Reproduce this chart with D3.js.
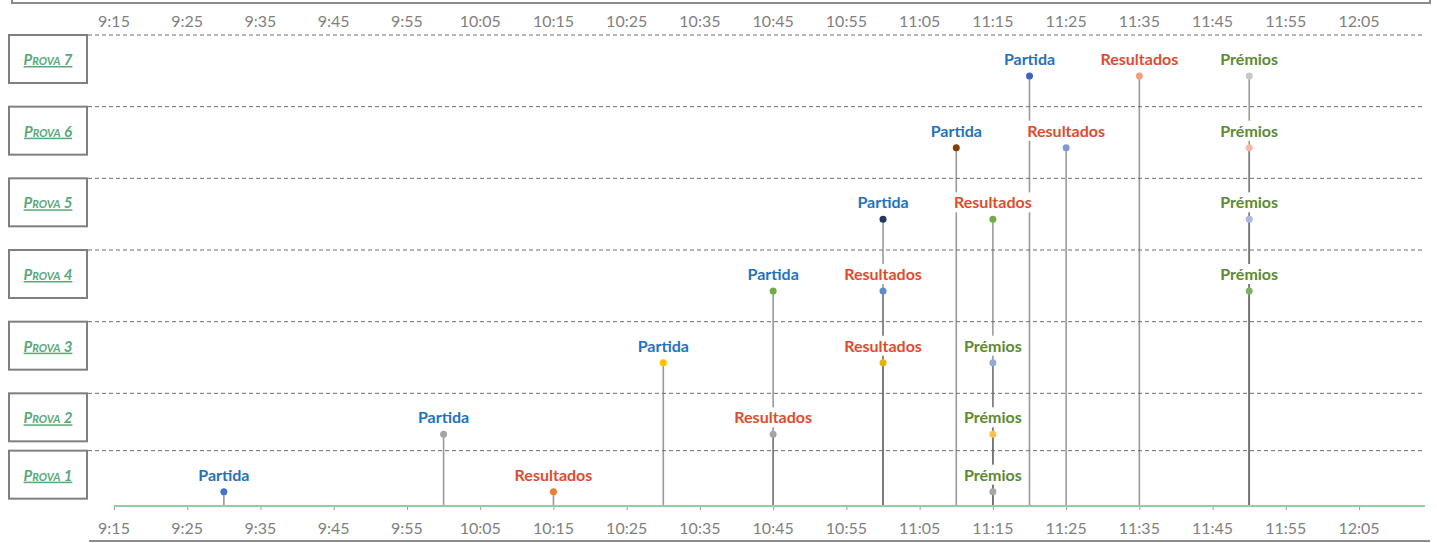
<!DOCTYPE html>
<html>
<head>
<meta charset="utf-8">
<script src="https://cdn.jsdelivr.net/npm/d3@7"></script>
<style>
  body { margin: 0; background: #fff; }
  svg { display: block; }
</style>
</head>
<body>
<svg id="chart" width="1437" height="543"></svg>
<script>
// races, one row each (bottom to top)
var provas = ["Prova 1", "Prova 2", "Prova 3", "Prova 4", "Prova 5", "Prova 6", "Prova 7"];
var levels = [0.2, 1, 2, 3, 4, 5, 6];

var partidaTimes    = ["9:30", "10:00", "10:30", "10:45", "11:00", "11:10", "11:20"];
var resultadosTimes = ["10:15", "10:45", "11:00", "11:00", "11:15", "11:25", "11:35"];
var premiosTimes    = ["11:15", "11:15", "11:15", "11:50", "11:50", "11:50", "11:50"];

var partidaColors    = ["#4472c4", "#a5a5a5", "#ffc000", "#70ad47", "#1f3864", "#843c0c", "#3f63bf"];
var resultadosColors = ["#ed7d31", "#a5a5a5", "#e8b200", "#5e8ccb", "#70ad47", "#7f97d5", "#f4a07a"];
var premiosColors    = ["#a5a5a5", "#ffc04d", "#8faadc", "#7faf60", "#a9b7e3", "#f4b9a8", "#c8c8c8"];

var tickLabels = ["9:15", "9:25", "9:35", "9:45", "9:55", "10:05", "10:15", "10:25", "10:35",
                  "10:45", "10:55", "11:05", "11:15", "11:25", "11:35", "11:45", "11:55", "12:05"];

var parseTime = d3.timeParse("%H:%M");

var events = [];
provas.forEach(function(p, i) {
    events.push({prova: p, level: levels[i], time: parseTime(partidaTimes[i]), label: "Partida", color: partidaColors[i], textColor: "#1f73be"});
    events.push({prova: p, level: levels[i], time: parseTime(resultadosTimes[i]), label: "Resultados", color: resultadosColors[i], textColor: "#e04b2e"});
    events.push({prova: p, level: levels[i], time: parseTime(premiosTimes[i]), label: "Prémios", color: premiosColors[i], textColor: "#5c8a2f"});
});

var svg = d3.select("#chart");

var x = d3.scaleTime()
    .domain([parseTime("9:15"), parseTime("12:14")])
    .range([114, 1425]);

var y = d3.scaleLinear()
    .domain([0, 6])
    .range([506, 76]);

var tickValues = tickLabels.map(parseTime);

// frame above the chart
svg.append("rect")
    .attr("x", 12).attr("y", -20)
    .attr("width", 1418).attr("height", 23)
    .attr("fill", "none")
    .attr("stroke", "#8c8c8c")
    .attr("stroke-width", 2);

// row boxes and dashed separators
var rows = svg.selectAll(".row")
    .data(provas)
    .enter().append("g")
    .attr("class", "row")
    .attr("transform", function(d, i) { return "translate(0," + (y(levels[i]) - 41) + ")"; });

rows.append("line")
    .attr("x1", 88).attr("x2", 1425)
    .attr("stroke", "#6f6f6f")
    .attr("stroke-width", 1)
    .attr("stroke-dasharray", "4,3");

rows.append("rect")
    .attr("x", 9).attr("y", 0)
    .attr("width", 78).attr("height", 48)
    .attr("fill", "#fff")
    .attr("stroke", "#7f7f7f")
    .attr("stroke-width", 2);

rows.append("text")
    .attr("x", 48).attr("y", 30)
    .attr("text-anchor", "middle")
    .style("font-family", "Lato, 'Open Sans', sans-serif")
    .style("font-size", "15px")
    .style("font-style", "italic")
    .style("font-weight", "bold")
    .style("font-variant", "small-caps")
    .style("text-decoration", "underline")
    .attr("fill", "#5aa77a")
    .text(function(d) { return d; });

// stems
svg.selectAll(".stem")
    .data(events)
    .enter().append("line")
    .attr("class", "stem")
    .attr("x1", function(d) { return x(d.time); })
    .attr("x2", function(d) { return x(d.time); })
    .attr("y1", y(0))
    .attr("y2", function(d) { return y(d.level); })
    .attr("stroke", "#6f6f6f")
    .attr("stroke-opacity", 0.7)
    .attr("stroke-width", 1.6);

// axis line
var xAxis = d3.axisBottom(x)
    .tickValues(tickValues)
    .tickSize(4)
    .tickFormat("");

var axisG = svg.append("g")
    .attr("transform", "translate(0," + y(0) + ")")
    .call(xAxis);
axisG.select(".domain").remove();
axisG.selectAll(".tick line").attr("stroke", "#9a9a9a");
axisG.append("line")
    .attr("x1", x.range()[0]).attr("x2", x.range()[1])
    .attr("stroke", "#8fcfa3")
    .attr("stroke-width", 2);

// event labels with white background
var labels = svg.selectAll(".lbl")
    .data(events)
    .enter().append("g")
    .attr("class", "lbl")
    .attr("transform", function(d) { return "translate(" + x(d.time) + "," + (y(d.level) - 11) + ")"; });

labels.append("rect")
    .attr("y", -16)
    .attr("height", 20)
    .attr("fill", "#fff");

labels.append("text")
    .attr("text-anchor", "middle")
    .style("font-family", "Lato, sans-serif")
    .style("font-size", "16px")
    .style("font-weight", "bold")
    .attr("fill", function(d) { return d.textColor; })
    .text(function(d) { return d.label; });

labels.each(function() {
    var g = d3.select(this);
    var w = g.select("text").node().getComputedTextLength();
    g.select("rect").attr("x", -w / 2 - 2).attr("width", w + 4);
});

// points
svg.selectAll(".pt")
    .data(events)
    .enter().append("circle")
    .attr("class", "pt")
    .attr("cx", function(d) { return x(d.time); })
    .attr("cy", function(d) { return y(d.level); })
    .attr("r", 3.5)
    .attr("fill", function(d) { return d.color; });

// time labels top and bottom
function timeLabels(yPos) {
    svg.append("g").selectAll("text")
        .data(tickValues)
        .enter().append("text")
        .attr("x", function(d) { return x(d); })
        .attr("y", yPos)
        .attr("text-anchor", "middle")
        .style("font-family", "Lato, 'Open Sans', sans-serif")
        .style("font-size", "16px")
        .attr("fill", "#7f7f7f")
        .text(function(d, i) { return tickLabels[i]; });
}
timeLabels(27);
timeLabels(534);

svg.append("line")
    .attr("x1", 89).attr("x2", 1430)
    .attr("y1", 541).attr("y2", 541)
    .attr("stroke", "#8c8c8c")
    .attr("stroke-width", 2);
</script>
</body>
</html>
